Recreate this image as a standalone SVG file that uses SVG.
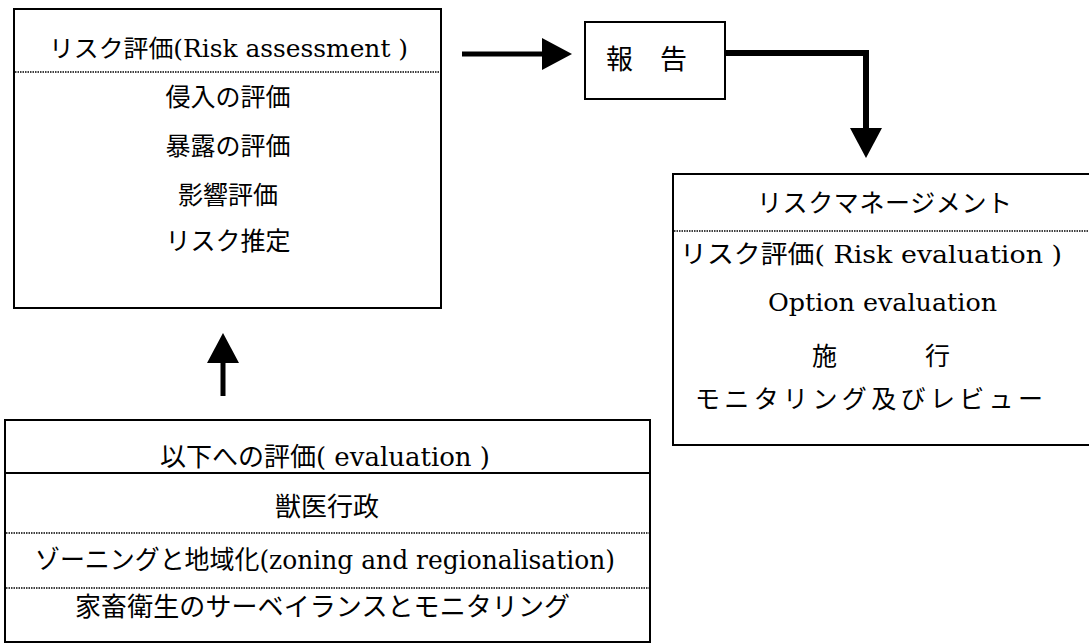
<svg xmlns="http://www.w3.org/2000/svg" width="1089" height="643" viewBox="0 0 1089 643">
  <style>
    .box { fill: #fff; stroke: #000; stroke-width: 2; }
    .sep { stroke: #000; stroke-width: 1.5; stroke-dasharray: 1.5 1; fill: none; }
    .solid { stroke: #000; stroke-width: 2; fill: none; }
    .conn { stroke: #000; fill: none; stroke-linejoin: miter; }
    text { font-family: "DejaVu Serif", "Noto Sans CJK JP", serif; fill: #000; }
    .t24 { font-size: 24px; }
    .t25 { font-size: 25px; }
    .t26 { font-size: 26px; }
    .t27 { font-size: 27px; }
  </style>
  <defs>
    <marker id="head" markerUnits="userSpaceOnUse" viewBox="0 0 30 32" markerWidth="30" markerHeight="32" refX="5" refY="16" orient="auto">
      <path d="M0,0 L30,16 L0,32 Z" fill="#000"/>
    </marker>
  </defs>
  <rect width="1089" height="643" fill="#fff"/>

  <g id="risk-assessment">
    <rect class="box" x="14" y="9" width="427" height="299"/>
    <line class="sep" x1="15" y1="72" x2="440" y2="72"/>
    <text class="t24" x="49" y="57" textLength="359" lengthAdjust="spacingAndGlyphs">リスク評価(Risk assessment )</text>
    <text class="t25" x="228" y="106" text-anchor="middle">侵入の評価</text>
    <text class="t25" x="228" y="155" text-anchor="middle">暴露の評価</text>
    <text class="t25" x="228" y="204" text-anchor="middle">影響評価</text>
    <text class="t25" x="228" y="250" text-anchor="middle">リスク推定</text>
  </g>

  <g id="report">
    <rect class="box" x="585" y="22" width="140" height="77"/>
    <text class="t27" x="606" y="69">報　告</text>
  </g>

  <g id="risk-management">
    <rect class="box" x="673" y="174" width="420" height="271"/>
    <line class="sep" x1="674" y1="231" x2="1089" y2="231"/>
    <text class="t25" x="757" y="212" textLength="255" lengthAdjust="spacing">リスクマネージメント</text>
    <text class="t25" x="680" y="263" textLength="382" lengthAdjust="spacingAndGlyphs">リスク評価( Risk evaluation )</text>
    <text class="t25" x="768" y="311" textLength="229" lengthAdjust="spacingAndGlyphs">Option evaluation</text>
    <text class="t25" y="365"><tspan x="812">施</tspan><tspan x="925">行</tspan></text>
    <text class="t25" x="695" y="408" textLength="348" lengthAdjust="spacing">モニタリング及びレビュー</text>
  </g>

  <g id="evaluation">
    <rect class="box" x="5" y="420" width="645" height="222"/>
    <line class="solid" x1="5" y1="473" x2="650" y2="473"/>
    <line class="sep" x1="6" y1="533" x2="649" y2="533"/>
    <line class="sep" x1="6" y1="588" x2="649" y2="588"/>
    <text class="t26" x="160" y="466" textLength="330" lengthAdjust="spacingAndGlyphs">以下への評価( evaluation )</text>
    <text class="t26" x="327" y="516" text-anchor="middle">獣医行政</text>
    <text class="t26" x="35" y="569" textLength="580" lengthAdjust="spacingAndGlyphs">ゾーニングと地域化(zoning and regionalisation)</text>
    <text class="t26" x="75" y="616" textLength="495" lengthAdjust="spacing">家畜衛生のサーベイランスとモニタリング</text>
  </g>

  <g id="connectors">
    <path class="conn" stroke-width="5" d="M462,54 L547,54" marker-end="url(#head)"/>
    <path class="conn" stroke-width="6" d="M725,53 L866,53 L866,133" marker-end="url(#head)"/>
    <path class="conn" stroke-width="5" d="M223,396 L223,358" marker-end="url(#head)"/>
  </g>
</svg>
